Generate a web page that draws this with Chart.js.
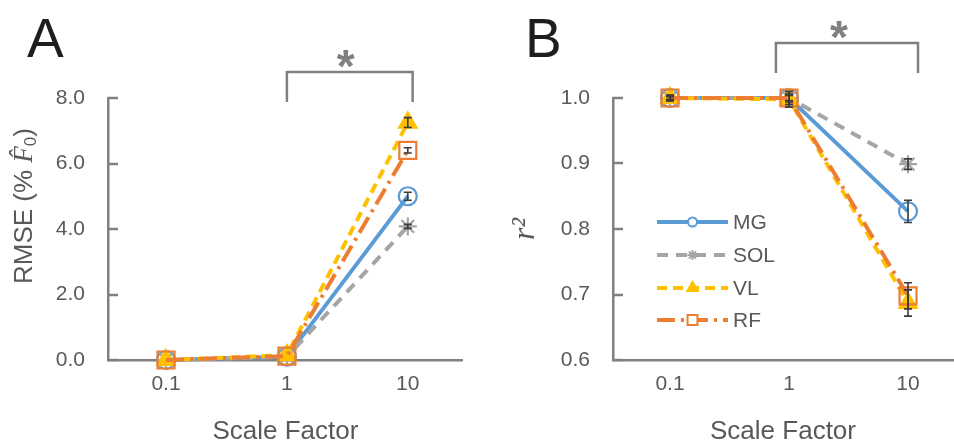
<!DOCTYPE html>
<html><head><meta charset="utf-8">
<script src="https://cdn.jsdelivr.net/npm/chart.js@4"></script>
<style>
html,body{margin:0;padding:0;background:#fff;}
#wrap{position:relative;width:954px;height:444px;overflow:hidden;background:#fff;}
canvas{position:absolute;top:0;}
</style></head><body>
<div id="wrap">
<canvas id="cA" width="477" height="444" style="left:0"></canvas>
<canvas id="cB" width="500" height="444" style="left:477px"></canvas>
</div>
<script>
// ---------- data ----------
const categories = ['0.1', '1', '10'];
const seriesNames = ['MG', 'SOL', 'VL', 'RF'];

// Panel A: RMSE (% F0)
const rmseMG  = [0.00, 0.10, 5.00];
const rmseSOL = [0.00, 0.10, 4.08];
const rmseVL  = [0.00, 0.15, 7.25];
const rmseRF  = [0.00, 0.12, 6.40];
const rmseErrMG  = [0, 0, 0.12];
const rmseErrSOL = [0, 0, 0.06];
const rmseErrVL  = [0, 0, 0.15];
const rmseErrRF  = [0, 0, 0.08];
const rmseTicks = [0, 2, 4, 6, 8];

// Panel B: r^2
const r2MG  = [1.000, 1.000, 0.827];
const r2SOL = [1.000, 1.000, 0.899];
const r2VL  = [1.000, 0.998, 0.687];
const r2RF  = [1.000, 1.000, 0.698];
const r2ErrMG  = [0.004, 0.006, 0.017];
const r2ErrSOL = [0.002, 0.004, 0.008];
const r2ErrVL  = [0.004, 0.012, 0.020];
const r2ErrRF  = [0.004, 0.010, 0.020];
const r2Ticks = [0.6, 0.7, 0.8, 0.9, 1.0];

// ---------- styles ----------
const F = "'Liberation Sans', Arial, sans-serif";
const TXT = '#595959';
const AX = '#808080';
const ERR = '#3a3a3a';
const styles = {
  MG:  {color: '#5b9bd5', dash: [],            width: 3.8, point: 'circle',   radius: 9,  lr: 4.5},
  SOL: {color: '#a5a5a5', dash: [11, 8],       width: 4,   point: 'star',     radius: 9,  lr: 5},
  VL:  {color: '#ffc000', dash: [10, 6],       width: 4,   point: 'triangle', radius: 10, lr: 6},
  RF:  {color: '#ed7d31', dash: [18, 6, 3, 6], width: 4,   point: 'rect',     radius: 12, lr: 7}
};

function makeDatasets(valuesList, errList) {
  return seriesNames.map((name, k) => {
    const s = styles[name];
    return {
      label: name,
      data: valuesList[k].map((v, i) => ({x: i, y: v})),
      errors: errList[k],
      borderColor: s.color,
      backgroundColor: 'rgba(0,0,0,0)',
      borderWidth: s.width,
      borderDash: s.dash,
      pointStyle: s.point,
      pointRadius: s.radius,
      pointHoverRadius: s.radius,
      pointBorderWidth: 2.2,
      pointBorderColor: s.color,
      pointBackgroundColor: s.point === 'triangle' ? s.color : 'rgba(0,0,0,0)',
      tension: 0,
      clip: false,
      order: 3 - k
    };
  });
}

const decor = {
  id: 'decor',
  beforeDatasetsDraw(chart, args, o) {
    const {ctx, chartArea, scales: {y}} = chart;
    ctx.save();
    ctx.setLineDash([]);
    ctx.strokeStyle = AX; ctx.lineWidth = 2.5;
    ctx.beginPath();
    y.ticks.forEach(t => {
      const py = Math.round(y.getPixelForValue(t.value));
      ctx.moveTo(chartArea.left, py); ctx.lineTo(chartArea.left + 10, py);
    });
    ctx.stroke();
    ctx.restore();
  },
  afterDatasetsDraw(chart, args, o) {
    const {ctx, chartArea, scales: {x, y}} = chart;
    ctx.save();
    ctx.setLineDash([]);
    // error bars
    ctx.strokeStyle = ERR; ctx.lineWidth = 1.6;
    chart.data.datasets.forEach(ds => {
      ds.data.forEach((p, i) => {
        const e = ds.errors[i]; if (!e) return;
        const px = x.getPixelForValue(p.x);
        const y1 = y.getPixelForValue(p.y - e), y2 = y.getPixelForValue(p.y + e);
        ctx.beginPath();
        ctx.moveTo(px, y1); ctx.lineTo(px, y2);
        ctx.moveTo(px - 4, y1); ctx.lineTo(px + 4, y1);
        ctx.moveTo(px - 4, y2); ctx.lineTo(px + 4, y2);
        ctx.stroke();
      });
    });
    // significance bracket
    const b = o.bracket;
    const bx1 = x.getPixelForValue(b.x1), bx2 = x.getPixelForValue(b.x2);
    ctx.strokeStyle = AX; ctx.lineWidth = 2.5;
    ctx.beginPath();
    ctx.moveTo(bx1, b.bottom); ctx.lineTo(bx1, b.top); ctx.lineTo(bx2, b.top); ctx.lineTo(bx2, b.bottom);
    ctx.stroke();
    ctx.fillStyle = AX;
    ctx.font = 'bold 46px ' + F;
    ctx.textAlign = 'center'; ctx.textBaseline = 'alphabetic';
    ctx.fillText('*', (bx1 + bx2) / 2 + b.starDx, b.top + b.starDy);
    // panel letter
    ctx.fillStyle = '#1e1e1e';
    ctx.font = '55px ' + F;
    ctx.textAlign = 'left';
    ctx.fillText(o.letter.text, o.letter.x, o.letter.y);
    // custom rotated y title (mixed fonts)
    if (o.ytitle) {
      const T = o.ytitle;
      ctx.save();
      ctx.translate(T.x, T.y);
      ctx.rotate(-Math.PI / 2);
      ctx.fillStyle = TXT;
      ctx.textBaseline = 'middle'; ctx.textAlign = 'left';
      let w = 0;
      T.parts.forEach(p => { ctx.font = p.font; w += ctx.measureText(p.text).width; });
      let cx = -w / 2;
      T.parts.forEach(p => {
        ctx.font = p.font;
        ctx.fillText(p.text, cx, p.dy || 0);
        cx += ctx.measureText(p.text).width;
      });
      ctx.restore();
    }
    // legend
    if (o.legend) {
      const L = o.legend;
      chart.data.datasets.forEach((ds, k) => {
        const s = styles[ds.label];
        const ry = L.rows[k];
        ctx.strokeStyle = s.color; ctx.lineWidth = s.width; ctx.lineCap = 'butt';
        ctx.setLineDash(s.dash);
        ctx.beginPath(); ctx.moveTo(L.x1, ry); ctx.lineTo(L.x2, ry); ctx.stroke();
        ctx.setLineDash([]);
        ctx.lineWidth = 2;
        ctx.fillStyle = s.point === 'triangle' ? s.color : '#ffffff';
        Chart.helpers.drawPoint(ctx, {pointStyle: s.point, radius: s.lr, borderWidth: 2, rotation: 0}, (L.x1 + L.x2) / 2, ry);
        ctx.fillStyle = TXT;
        ctx.font = '21px ' + F;
        ctx.textAlign = 'left'; ctx.textBaseline = 'middle';
        ctx.fillText(ds.label, L.tx, ry + 1);
      });
    }
    ctx.restore();
  }
};

function axisCommon() {
  return {
    grid: {display: false, drawTicks: false},
    border: {display: true, color: AX, width: 2.5}
  };
}

function makeChart(id, datasets, cfg) {
  return new Chart(document.getElementById(id), {
    type: 'line',
    data: {datasets},
    plugins: [decor],
    options: {
      responsive: false, animation: false, devicePixelRatio: 1,
      layout: {padding: {top: 98, right: cfg.padRight, left: 0, bottom: 0}},
      plugins: {
        legend: {display: false}, tooltip: {enabled: false},
        decor: cfg.decor
      },
      scales: {
        x: Object.assign(axisCommon(), {
          type: 'linear', min: cfg.xmin, max: cfg.xmax,
          afterBuildTicks: s => { s.ticks = categories.map((c, i) => ({value: i})); },
          afterFit: s => { s.height = 84; },
          ticks: {callback: v => categories[v] ?? '', color: TXT, font: {family: F, size: 21}, padding: 12, maxRotation: 0, autoSkip: false},
          title: {display: true, text: 'Scale Factor', color: TXT, font: {family: F, size: 26}, padding: {top: 0, bottom: -3}}
        }),
        y: Object.assign(axisCommon(), {
          min: cfg.ymin, max: cfg.ymax,
          afterBuildTicks: s => { s.ticks = cfg.yticks.map(v => ({value: v})); },
          afterFit: s => { s.width = cfg.yWidth; },
          ticks: {callback: v => Number(v).toFixed(1), color: TXT, font: {family: F, size: 21}, padding: 23},
          title: Object.assign({color: TXT, padding: {top: cfg.yTitlePad, bottom: 0}}, cfg.yTitle)
        })
      }
    }
  });
}

makeChart('cA', makeDatasets([rmseMG, rmseSOL, rmseVL, rmseRF], [rmseErrMG, rmseErrSOL, rmseErrVL, rmseErrRF]), {
  padRight: 14, xmin: -0.48, xmax: 2.455, ymin: 0, ymax: 8, yticks: rmseTicks, yWidth: 108, yTitlePad: 8,
  yTitle: {display: false, text: 'RMSE (% F\u0302\u2080)'},
  decor: {
    bracket: {x1: 1.0, x2: 2.04, top: 72, bottom: 102, starDx: -4, starDy: 10},
    letter: {text: 'A', x: 27, y: 57},
    ytitle: {x: 25, y: 206, parts: [
      {text: 'RMSE (% ', font: '26px ' + F},
      {text: 'F\u0302', font: "italic 27px 'Liberation Serif', serif"},
      {text: '0', font: '17px ' + F, dy: 6},
      {text: ')', font: '26px ' + F}
    ]}
  }
});

makeChart('cB', makeDatasets([r2MG, r2SOL, r2VL, r2RF], [r2ErrMG, r2ErrSOL, r2ErrVL, r2ErrRF]), {
  padRight: 24, xmin: -0.479, xmax: 2.378, ymin: 0.6, ymax: 1.0, yticks: r2Ticks, yWidth: 136, yTitlePad: 29,
  yTitle: {display: true, text: 'r\u00B2', font: {family: "'Liberation Serif', serif", size: 32, style: 'italic'}},
  decor: {
    bracket: {x1: 0.89, x2: 2.084, top: 43, bottom: 73, starDx: -8, starDy: 10},
    letter: {text: 'B', x: 48, y: 57},
    legend: {x1: 180, x2: 251, tx: 256, rows: [222, 255, 288, 320]}
  }
});
</script>
</body></html>
